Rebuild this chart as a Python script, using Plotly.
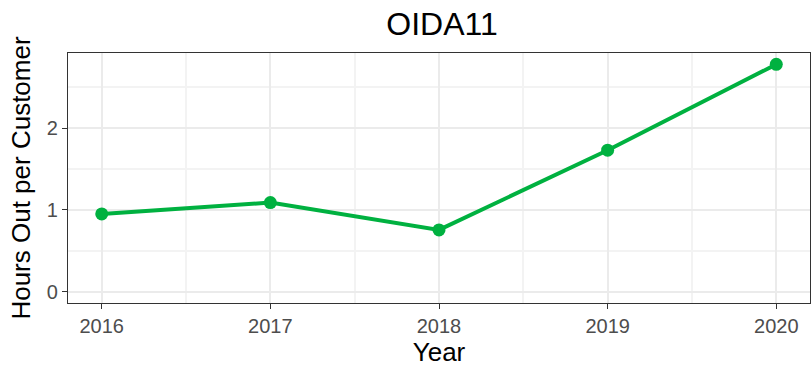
import plotly.graph_objects as go

years = [2016, 2017, 2018, 2019, 2020]
hours_out = [0.95, 1.09, 0.755, 1.73, 2.78]
y_ticks = [0, 1, 2]

line_color = "#00B140"
font_family = "Liberation Sans, Arial, sans-serif"

fig = go.Figure(
    go.Scatter(
        x=years,
        y=hours_out,
        mode="lines+markers",
        line=dict(color=line_color, width=4),
        marker=dict(color=line_color, size=13),
        showlegend=False,
    )
)

axis_common = dict(
    showline=True,
    linecolor="#333333",
    linewidth=1.3,
    mirror=True,
    ticks="outside",
    ticklen=5,
    tickwidth=1.3,
    tickcolor="#333333",
    showgrid=True,
    gridcolor="#EBEBEB",
    gridwidth=2,
    zeroline=False,
    tickfont=dict(family=font_family, size=20, color="#4D4D4D"),
)

fig.update_xaxes(
    **axis_common,
    range=[2015.8, 2020.2],
    tickvals=years,
    ticktext=[str(y) for y in years],
    minor=dict(dtick=0.5, tick0=2016, showgrid=True, gridcolor="#F3F3F3", gridwidth=1.5, ticks=""),
    title=dict(text="Year", font=dict(family=font_family, size=26, color="black"), standoff=4),
)
fig.update_yaxes(
    **axis_common,
    range=[-0.139, 2.919],
    tickvals=y_ticks,
    minor=dict(dtick=0.5, tick0=0, showgrid=True, gridcolor="#F3F3F3", gridwidth=1.5, ticks=""),
    title=dict(text="Hours Out per Customer", font=dict(family=font_family, size=26, color="black"), standoff=8),
)

fig.update_layout(
    width=811,
    height=370,
    margin=dict(l=68, r=1, t=53, b=67),
    paper_bgcolor="white",
    plot_bgcolor="white",
    title=dict(
        text="OIDA11",
        x=442 / 811,
        xanchor="center",
        y=1 - 24 / 370,
        yanchor="middle",
        yref="container",
        font=dict(family=font_family, size=32, color="black"),
    ),
)

fig.write_html("out.html")
